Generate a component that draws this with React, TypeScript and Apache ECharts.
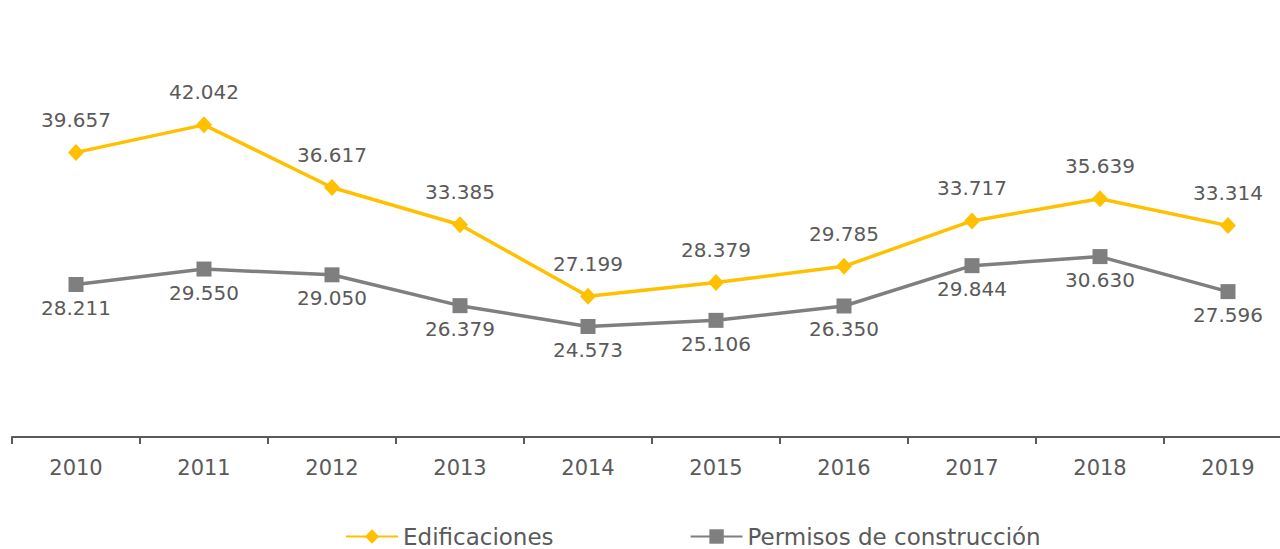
import React, { useEffect, useRef } from "react";
import * as echarts from "echarts";

const years = ["2010", "2011", "2012", "2013", "2014", "2015", "2016", "2017", "2018", "2019"];
const edificaciones = [39657, 42042, 36617, 33385, 27199, 28379, 29785, 33717, 35639, 33314];
const permisos = [28211, 29550, 29050, 26379, 24573, 25106, 26350, 29844, 30630, 27596];
const seriesNames = ["Edificaciones", "Permisos de construcción"];

const fmt = (v: number) => {
  const s = String(Math.round(v));
  return s.replace(/\B(?=(\d{3})+(?!\d))/g, ".");
};

const FONT = "DejaVu Sans";
const TEXT = "#5a5a5a";

export default function App() {
  const ref = useRef<HTMLDivElement>(null);
  useEffect(() => {
    if (!ref.current) return;
    const chart = echarts.init(ref.current, undefined, { renderer: "svg" });
    chart.setOption({
      animation: false,
      backgroundColor: "#ffffff",
      textStyle: { fontFamily: FONT },
      grid: {
        left: 12,
        width: 1280,
        top: 33,
        bottom: 112,
        containLabel: false,
        outerBoundsMode: "none",
      },
      legend: {
        bottom: -4,
        left: 340,
        itemGap: 136,
        itemWidth: 52,
        itemHeight: 18,
        data: seriesNames,
        textStyle: { fontFamily: FONT, fontSize: 23, color: TEXT },
      },
      xAxis: {
        type: "category",
        data: years,
        boundaryGap: true,
        axisLine: { lineStyle: { color: TEXT, width: 2 } },
        axisTick: { show: true, length: 7, lineStyle: { color: TEXT, width: 2 } },
        axisLabel: { fontFamily: FONT, fontSize: 21, color: TEXT, margin: 20 },
      },
      yAxis: {
        type: "value",
        min: 15000,
        max: 50000,
        show: false,
        splitLine: { show: false },
      },
      series: [
        {
          name: seriesNames[0],
          type: "line",
          data: edificaciones,
          symbol: "diamond",
          symbolSize: [16, 17],
          itemStyle: { color: "#FFC000" },
          lineStyle: { color: "#FFC000", width: 3.5 },
          label: {
            show: true,
            position: "top",
            distance: 14,
            formatter: (p: any) => fmt(p.value),
            fontFamily: FONT,
            fontSize: 20,
            color: TEXT,
          },
          z: 3,
        },
        {
          name: seriesNames[1],
          type: "line",
          data: permisos,
          symbol: "rect",
          symbolSize: 15,
          itemStyle: { color: "#7F7F7F", borderRadius: 2 },
          lineStyle: { color: "#7F7F7F", width: 3.5 },
          label: {
            show: true,
            position: "bottom",
            distance: 6,
            formatter: (p: any) => fmt(p.value),
            fontFamily: FONT,
            fontSize: 20,
            color: TEXT,
          },
          z: 2,
        },
      ],
    });
    return () => chart.dispose();
  }, []);
  return (
    <div
      ref={ref}
      style={{ position: "fixed", left: 0, top: 0, width: 1280, height: 549, background: "#fff" }}
    />
  );
}
